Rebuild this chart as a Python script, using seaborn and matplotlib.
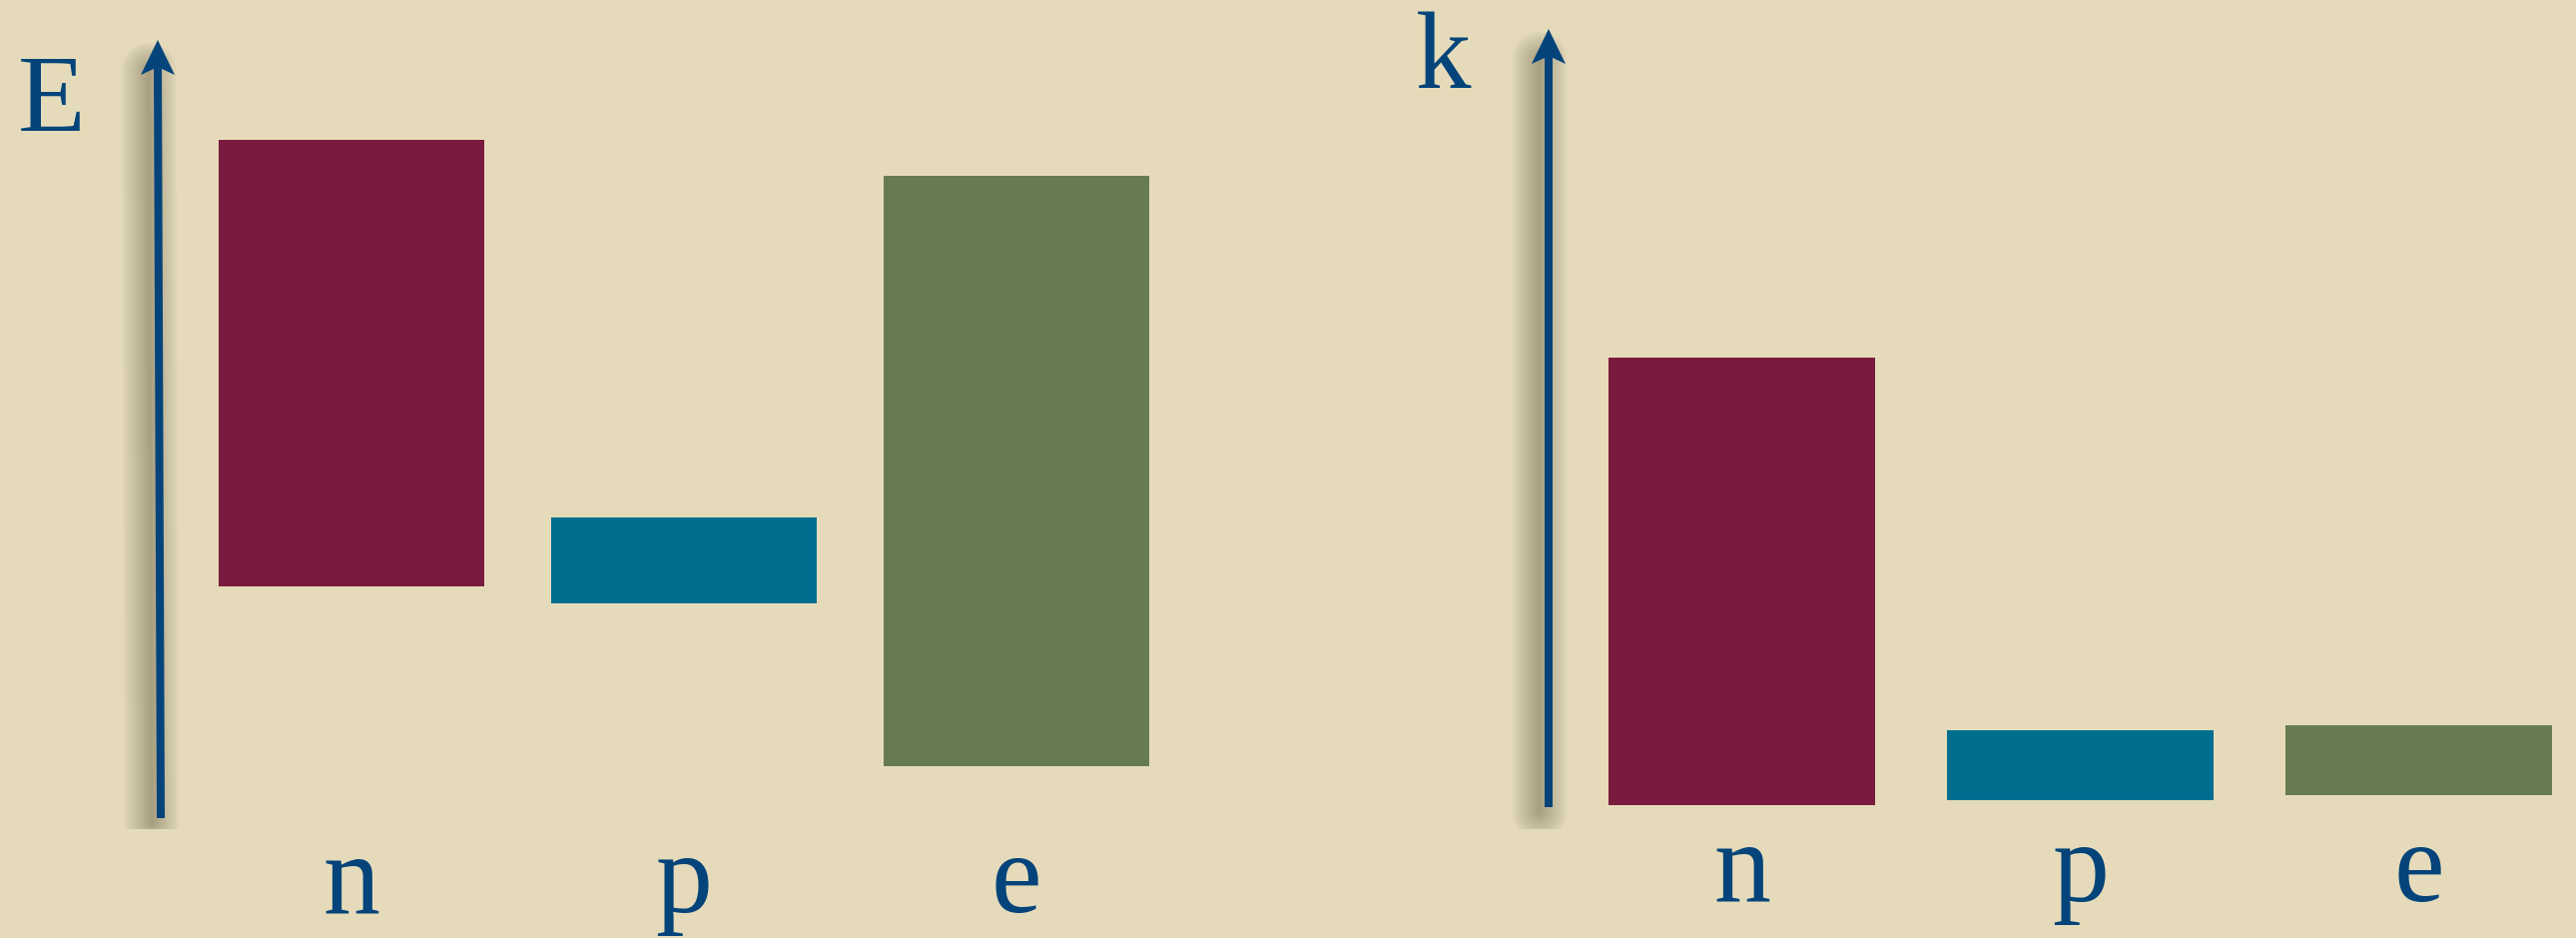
import matplotlib
matplotlib.use("Agg")
import matplotlib.pyplot as plt
import matplotlib.transforms as mtransforms
from matplotlib.patches import Polygon
import seaborn as sns
import pandas as pd

## DATA
particles = ["n", "p", "e"]
# left panel (E): lower / upper edge of each band
energy_low = [35.2, 33.5, 17.2]
energy_high = [79.9, 42.1, 76.3]
# right panel (k)
k_low = [13.3, 13.8, 14.3]
k_high = [58.1, 20.8, 21.3]

bar_colors = ["#7A1A3F", "#006E8F", "#677B51"]
bg = "#E5DBBA"
blue = "#04447A"
serif = ["Liberation Serif", "TeX Gyre Termes", "DejaVu Serif"]

sns.set_theme(style="white")
plt.rcParams["font.family"] = serif

W, H = 2580, 939
fig = plt.figure(figsize=(W / 100, H / 100), dpi=100, facecolor=bg)


def panel(x0, x1, center0, unit, width, low, high, label_pad, arrow_bot, arrow_top):
    # axes placed so that one category step = `unit` pixels
    ax = fig.add_axes([x0 / W, 109 / H, (x1 - x0) / W, 830 / H])
    ax.set_facecolor("none")
    df = pd.DataFrame({"particle": particles,
                       "size": [h - l for l, h in zip(low, high)]})
    sns.barplot(data=df, x="particle", y="size", bottom=low, width=width,
                color=bar_colors[0], errorbar=None, linewidth=0, ax=ax, zorder=3)
    for patch, c in zip(ax.patches, bar_colors):
        patch.set_facecolor(c)

    ax.set_xlim((x0 - center0) / unit, (x1 - center0) / unit)
    ax.set_ylim(10.9, 93.9)
    ax.set_yticks([])
    ax.set_xlabel("")
    ax.set_ylabel("")
    sns.despine(ax=ax, left=True, bottom=True)
    ax.tick_params(axis="x", length=0, pad=label_pad)
    for t in ax.get_xticklabels():
        t.set_verticalalignment("baseline")
        t.set_fontfamily(serif)
        t.set_fontsize(82)
        t.set_color(blue)

    # arrow with soft shadow
    xb, yb = (arrow_bot[0] - center0) / unit, arrow_bot[1]
    xt, yt = (arrow_top[0] - center0) / unit, arrow_top[1]
    shadow = mtransforms.offset_copy(ax.transData, fig=fig, x=-9, y=-5, units="dots")
    for w in range(2, 58, 2):
        ax.plot([xb, xt], [yb, yt - 2.5], color="#2e2616", lw=w * 0.72,
                alpha=0.011, solid_capstyle="round", transform=shadow, zorder=1)
    ax.plot([xb, xt], [yb, yt - 2.7], color=blue, lw=8 * 0.72,
            solid_capstyle="butt", zorder=4)
    head = Polygon([(0, 0), (-17, -35), (0, -27), (17, -35)], closed=True,
                   facecolor=blue, edgecolor="none", zorder=4,
                   transform=mtransforms.Affine2D() + mtransforms.ScaledTranslation(xt, yt, ax.transData))
    ax.add_patch(head)
    return ax


panel(100, 1200, 352, 333, 0.8, energy_low, energy_high, 59.8, (161, 12.0), (158, 89.9))
panel(1480, 2580, 1744.5, 339, 0.788, k_low, k_high, 51.8, (1551, 13.1), (1551, 91.0))

fig.text(18 / W, 1 - 131 / H, "E", fontsize=80, color=blue, ha="left", va="baseline",
         fontfamily=serif)
fig.text(1418 / W, 1 - 88 / H, "k", fontsize=80, color=blue, ha="left", va="baseline",
         fontfamily=serif)

fig.savefig("out.png", dpi=100, facecolor=bg)
